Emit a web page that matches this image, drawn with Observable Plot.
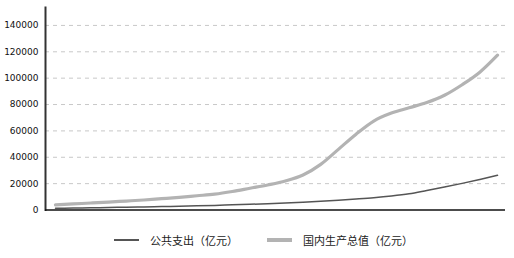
<!DOCTYPE html>
<html>
<head>
<meta charset="utf-8">
<script src="https://cdn.jsdelivr.net/npm/d3@7"></script>
<script src="https://cdn.jsdelivr.net/npm/@observablehq/plot@0.6"></script>
<style>
  html, body { margin: 0; padding: 0; background: #fff; }
  #wrap { width: 514px; height: 258px; position: relative; overflow: hidden; }
  #legend { position: absolute; left: 0; top: 229px; width: 514px; height: 22px;
            font-family: "Noto Sans CJK SC", sans-serif; font-size: 11px; color: #222; }
  .item { position: absolute; top: 0; display: flex; align-items: center; height: 22px; }
  .sw { display: inline-block; width: 25px; margin-right: 11px; }
</style>
</head>
<body>
<div id="wrap">
  <div id="chart"></div>
  <div id="legend"></div>
</div>
<script>
const years = [1978,1979,1980,1981,1982,1983,1984,1985,1986,1987,1988,1989,1990,
               1991,1992,1993,1994,1995,1996,1997,1998,1999,2000,2001,2002,2003];
const publicSpending = [1300,1500,1700,1900,2100,2300,2600,2900,3200,3500,3900,4300,4800,
                        5300,5900,6600,7400,8300,9300,10600,12300,14800,17400,20200,23200,26300];
const gdp = [3900,4600,5300,6000,6800,7600,8600,9600,10800,12000,14000,16500,19000,
             22000,26500,34600,46000,57500,67500,73500,77500,81500,87000,95000,104500,117400];
const yTicks = [0,20000,40000,60000,80000,100000,120000,140000];
const seriesNames = ["公共支出（亿元）", "国内生产总值（亿元）"];
const colors = ["#555555", "#b3b3b3"];
const widths = [1.5, 3.2];

const spendRows = years.map((y, i) => ({year: y, value: publicSpending[i]}));
const gdpRows = years.map((y, i) => ({year: y, value: gdp[i]}));

const chart = Plot.plot({
  width: 514,
  height: 220,
  marginLeft: 45,
  marginRight: 9,
  marginTop: 7,
  marginBottom: 10.5,
  style: {fontFamily: "DejaVu Sans, Verdana, sans-serif", background: "#fff"},
  x: {domain: [1978, 2003], insetLeft: 10, insetRight: 8, axis: null},
  y: {domain: [0, 153600], axis: null},
  marks: [
    Plot.gridY(yTicks.filter(d => d > 0), {stroke: "#c8c8c8", strokeOpacity: 1, strokeDasharray: "4,4"}),
    Plot.axisY(yTicks, {tickSize: 0, tickPadding: 7, fontSize: 9, fill: "#111", label: null, tickFormat: d => String(d)}),
    Plot.line(gdpRows, {x: "year", y: "value", stroke: colors[1], strokeWidth: widths[1], curve: "monotone-x"}),
    Plot.line(spendRows, {x: "year", y: "value", stroke: colors[0], strokeWidth: widths[0], curve: "monotone-x"}),
    Plot.frame({anchor: "left", stroke: "#333", strokeWidth: 2}),
    Plot.ruleY([0], {stroke: "#111", strokeWidth: 1.6})
  ]
});
document.getElementById("chart").appendChild(chart);

const legend = document.getElementById("legend");
const lefts = [114, 267];
seriesNames.forEach((name, i) => {
  const item = document.createElement("div");
  item.className = "item";
  item.style.left = lefts[i] + "px";
  const sw = document.createElement("span");
  sw.className = "sw";
  sw.style.height = widths[i] + "px";
  sw.style.background = colors[i];
  item.appendChild(sw);
  const t = document.createElement("span");
  t.textContent = name;
  item.appendChild(t);
  legend.appendChild(item);
});
</script>
</body>
</html>
